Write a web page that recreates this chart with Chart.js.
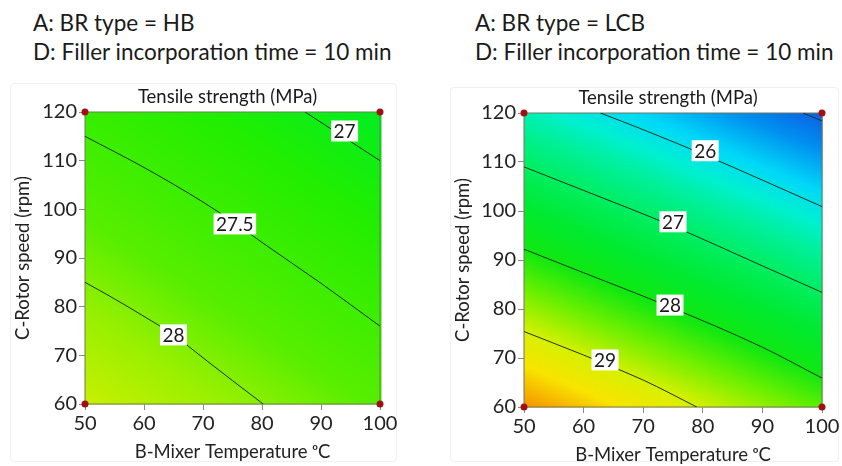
<!DOCTYPE html>
<html>
<head>
<meta charset="utf-8">
<script src="https://cdn.jsdelivr.net/npm/chart.js@4.4.1/dist/chart.umd.min.js"></script>
<style>
  body { margin: 0; background: #fff; font-family: Lato, 'Open Sans', sans-serif; }
  .page { position: relative; width: 842px; height: 466px; overflow: hidden; }
  .head { position: absolute; font-size: 22.5px; line-height: 29px; color: #1a1a1a; white-space: nowrap; }
  .card { position: absolute; border: 1px solid #f0f0f0; border-radius: 4px; }
  .box { position: absolute; }
</style>
</head>
<body>
<div class="page">
  <div class="head" style="left:33px; top:8px">A: BR type = HB<br>D: Filler incorporation time = 10 min</div>
  <div class="head" style="left:475px; top:8px">A: BR type = LCB<br>D: Filler incorporation time = 10 min</div>
  <div class="card" style="left:10px; top:83px; width:385px; height:377px"></div>
  <div class="card" style="left:450px; top:87px; width:387px; height:373px"></div>
  <div class="box" style="left:0; top:80px; width:400px; height:386px"><canvas id="hb"></canvas></div>
  <div class="box" style="left:430px; top:80px; width:412px; height:386px"><canvas id="lcb"></canvas></div>
</div>
<script>
// axis ticks
const tempTicks = [50, 60, 70, 80, 90, 100]
const speedTicks = [60, 70, 80, 90, 100, 110, 120]

// response read at each tick crossing, rows from 120 rpm down to 60 rpm
const hbGrid = [
    [27.44, 27.32, 27.19, 27.07, 26.94, 26.82],
    [27.60, 27.48, 27.35, 27.23, 27.10, 26.98],
    [27.76, 27.64, 27.51, 27.39, 27.26, 27.14],
    [27.92, 27.80, 27.67, 27.55, 27.42, 27.30],
    [28.08, 27.96, 27.83, 27.71, 27.58, 27.46],
    [28.24, 28.12, 27.99, 27.87, 27.74, 27.62],
    [28.40, 28.28, 28.15, 28.03, 27.90, 27.78]
]
const lcbGrid = [
    [26.37, 26.06, 25.76, 25.46, 25.15, 24.85],
    [26.95, 26.65, 26.35, 26.04, 25.74, 25.44],
    [27.54, 27.24, 26.94, 26.63, 26.33, 26.03],
    [28.13, 27.83, 27.52, 27.22, 26.92, 26.61],
    [28.72, 28.41, 28.11, 27.81, 27.51, 27.20],
    [29.31, 29.00, 28.70, 28.40, 28.09, 27.79],
    [29.89, 29.59, 29.29, 28.98, 28.68, 28.38]
]

// colour scales
const hbStops = [26.8, 27.2, 27.5, 27.8, 28.1, 28.4]
const hbColors = ['#00ee22', '#22ee00', '#3cee00', '#58ee00', '#98f000', '#c8f000']
const lcbStops = [24.8, 25.3, 25.8, 26.2, 26.5, 27.0, 27.5, 28.0, 28.5, 29.0, 29.4, 29.9]
const lcbColors = ['#1058e0', '#0090f0', '#00d8f8', '#00f0d0', '#00f0a0', '#00ee60', '#00ea30', '#10e810', '#70f000', '#d8f000', '#f8e400', '#f59000']

// contour lines
const hb27 = [{ x: 87.3, y: 120 }, { x: 93, y: 115.5 }, { x: 100, y: 110 }]
const hb275 = [{ x: 50, y: 115 }, { x: 60, y: 108.6 }, { x: 70, y: 101.5 }, { x: 75.4, y: 97.2 }, { x: 80, y: 93.2 }, { x: 90, y: 84.8 }, { x: 100, y: 76 }]
const hb28 = [{ x: 50, y: 85 }, { x: 55, y: 81.6 }, { x: 60, y: 78 }, { x: 65, y: 74.2 }, { x: 70, y: 69.5 }, { x: 75, y: 64.8 }, { x: 80.2, y: 60 }]
const lcb25 = [{ x: 96.8, y: 120 }, { x: 100, y: 118.4 }]
const lcb26 = [{ x: 62.8, y: 120 }, { x: 70, y: 116.6 }, { x: 80.4, y: 111.4 }, { x: 90, y: 106.3 }, { x: 100, y: 100.9 }]
const lcb27 = [{ x: 50, y: 109 }, { x: 60, y: 104.2 }, { x: 75, y: 96.9 }, { x: 90, y: 88.8 }, { x: 100, y: 83.4 }]
const lcb28 = [{ x: 50, y: 92.2 }, { x: 60, y: 87.4 }, { x: 74.5, y: 80.4 }, { x: 90, y: 72.2 }, { x: 100, y: 65.9 }]
const lcb29 = [{ x: 50, y: 75.4 }, { x: 60, y: 70.6 }, { x: 63.6, y: 68.8 }, { x: 70, y: 65.5 }, { x: 79, y: 60 }]

// contour labels
const hbLabels = [{ x: 94, y: 116.1, t: '27' }, { x: 75.4, y: 97, t: '27.5' }, { x: 65, y: 74.2, t: '28' }]
const lcbLabels = [{ x: 80.4, y: 112.3, t: '26' }, { x: 75, y: 97.8, t: '27' }, { x: 74.5, y: 80.8, t: '28' }, { x: 63.6, y: 69.6, t: '29' }]

// design points
const corners = [{ x: 50, y: 60 }, { x: 50, y: 120 }, { x: 100, y: 60 }, { x: 100, y: 120 }]

const FONT = "Lato, 'Open Sans', sans-serif"

function hexRgb(h) {
    return [parseInt(h.slice(1, 3), 16), parseInt(h.slice(3, 5), 16), parseInt(h.slice(5, 7), 16)]
}

function colorAt(stops, colors, v) {
    if (v <= stops[0]) return hexRgb(colors[0])
    for (let i = 1; i < stops.length; i++) {
        if (v <= stops[i]) {
            const f = (v - stops[i - 1]) / (stops[i] - stops[i - 1])
            const a = hexRgb(colors[i - 1]), b = hexRgb(colors[i])
            return a.map((c, k) => Math.round(c + (b[k] - c) * f))
        }
    }
    return hexRgb(colors[colors.length - 1])
}

function gridValue(grid, xv, yv) {
    let c = (xv - tempTicks[0]) / 10
    let r = (speedTicks[speedTicks.length - 1] - yv) / 10
    c = Math.min(Math.max(c, 0), grid[0].length - 1.0001)
    r = Math.min(Math.max(r, 0), grid.length - 1.0001)
    const i = Math.floor(r), j = Math.floor(c)
    const fr = r - i, fc = c - j
    const top = grid[i][j] * (1 - fc) + grid[i][j + 1] * fc
    const bot = grid[i + 1][j] * (1 - fc) + grid[i + 1][j + 1] * fc
    return top * (1 - fr) + bot * fr
}

function fieldPlugin(grid, stops, colors) {
    return {
        id: 'field',
        beforeDatasetsDraw(chart) {
            const { ctx, chartArea: a, scales } = chart
            const step = 2
            ctx.save()
            for (let px = a.left; px < a.right; px += step) {
                for (let py = a.top; py < a.bottom; py += step) {
                    const v = gridValue(grid, scales.x.getValueForPixel(px + 1), scales.y.getValueForPixel(py + 1))
                    const c = colorAt(stops, colors, v)
                    ctx.fillStyle = `rgb(${c[0]},${c[1]},${c[2]})`
                    ctx.fillRect(px, py, step + 0.5, step + 0.5)
                }
            }
            ctx.strokeStyle = '#6e7a5e'
            ctx.lineWidth = 1
            ctx.strokeRect(a.left, a.top, a.right - a.left, a.bottom - a.top)
            ctx.restore()
        }
    }
}

function labelPlugin(labels, title) {
    return {
        id: 'contourLabels',
        afterDatasetsDraw(chart) {
            const { ctx, chartArea: a, scales } = chart
            ctx.save()
            ctx.font = `19px ${FONT}`
            ctx.textAlign = 'center'
            ctx.textBaseline = 'middle'
            labels.forEach((l) => {
                const px = scales.x.getPixelForValue(l.x)
                const py = scales.y.getPixelForValue(l.y)
                const w = ctx.measureText(l.t).width + 5
                ctx.fillStyle = '#ffffff'
                ctx.fillRect(px - w / 2, py - 10.5, w, 21)
                ctx.fillStyle = '#1a1a1a'
                ctx.fillText(l.t, px, py + 1)
            })
            ctx.font = `18.5px ${FONT}`
            ctx.fillText(title, (a.left + a.right) / 2 - 5, a.top - 15)
            ctx.restore()
        }
    }
}

function lineSet(points) {
    return {
        type: 'line',
        data: points,
        borderColor: '#1f3320',
        borderWidth: 1,
        pointRadius: 0,
        cubicInterpolationMode: 'monotone',
        fill: false
    }
}

function makeChart(id, grid, stops, colors, lines, labels, pad) {
    const tickFont = { family: FONT, size: 20 }
    return new Chart(document.getElementById(id), {
        type: 'scatter',
        data: {
            datasets: [
                ...lines.map(lineSet),
                {
                    type: 'scatter',
                    data: corners,
                    pointRadius: 3.5,
                    pointBackgroundColor: '#a01010',
                    pointBorderWidth: 0,
                    clip: false
                }
            ]
        },
        options: {
            responsive: true,
            maintainAspectRatio: false,
            animation: false,
            layout: { padding: { left: pad.left, right: pad.right, top: pad.top, bottom: pad.bottom } },
            plugins: { legend: { display: false }, tooltip: { enabled: false } },
            scales: {
                x: {
                    type: 'linear',
                    min: tempTicks[0],
                    max: tempTicks[tempTicks.length - 1],
                    afterBuildTicks: (s) => { s.ticks = tempTicks.map((v) => ({ value: v })) },
                    afterFit: (s) => { s.height = pad.xh },
                    grid: { drawOnChartArea: false, tickLength: 6, color: '#8a8a8a' },
                    border: { display: false },
                    ticks: { font: tickFont, color: '#222', padding: 2, maxRotation: 0 },
                    title: {
                        display: true,
                        text: 'B-Mixer Temperature \u1d52C',
                        font: { family: FONT, size: 18.5 },
                        color: '#222',
                        padding: { top: 0, bottom: 0 }
                    }
                },
                y: {
                    type: 'linear',
                    min: speedTicks[0],
                    max: speedTicks[speedTicks.length - 1],
                    afterBuildTicks: (s) => { s.ticks = speedTicks.map((v) => ({ value: v })) },
                    afterFit: (s) => { s.width = pad.yw },
                    grid: { drawOnChartArea: false, tickLength: 6, color: '#8a8a8a' },
                    border: { display: false },
                    ticks: { font: tickFont, color: '#222', padding: 2 },
                    title: {
                        display: true,
                        text: 'C-Rotor speed (rpm)',
                        font: { family: FONT, size: 18.5 },
                        color: '#222',
                        padding: { top: 0, bottom: 0 }
                    }
                }
            }
        },
        plugins: [fieldPlugin(grid, stops, colors), labelPlugin(labels, 'Tensile strength (MPa)')]
    })
}

makeChart('hb', hbGrid, hbStops, hbColors, [hb27, hb275, hb28], hbLabels,
    { left: 12, right: 20, top: 32, bottom: 3, yw: 73, xh: 59 })
makeChart('lcb', lcbGrid, lcbStops, lcbColors, [lcb25, lcb26, lcb27, lcb28, lcb29], lcbLabels,
    { left: 22, right: 20, top: 33, bottom: 0, yw: 72, xh: 59 })
</script>
</body>
</html>
